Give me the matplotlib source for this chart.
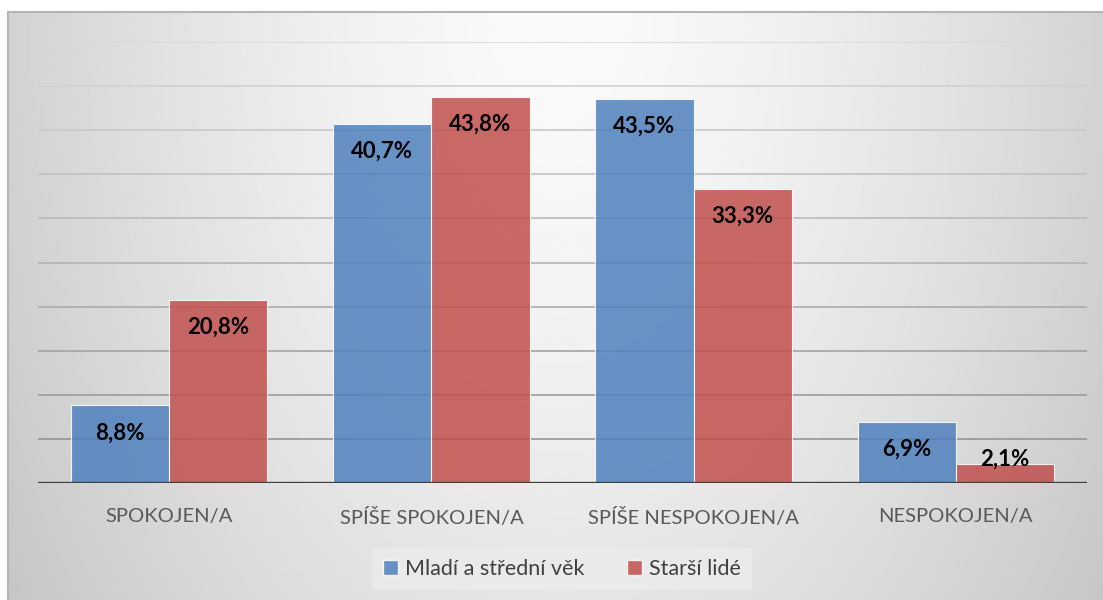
import numpy as np
import matplotlib
matplotlib.use("Agg")
import matplotlib.pyplot as plt
from matplotlib.patches import Patch, Rectangle

plt.rcParams["font.family"] = ["Lato", "DejaVu Sans"]

categories = ["SPOKOJEN/A", "SPÍŠE SPOKOJEN/A", "SPÍŠE NESPOKOJEN/A", "NESPOKOJEN/A"]
series_names = ["Mladí a střední věk", "Starší lidé"]
young = [8.8, 40.7, 43.5, 6.9]
older = [20.8, 43.8, 33.3, 2.1]

W, H = 1103, 600
fig = plt.figure(figsize=(W / 100, H / 100), dpi=100)

# gradient chart-area background (light at top centre, darker towards edges)
bg = fig.add_axes([8 / W, 0, 1 - 8 / W, 1 - 12 / H], zorder=-10)
xx, yy = np.meshgrid(np.linspace(8, W, 400), np.linspace(12, H, 300))
t = np.sqrt(((xx - 560) / 560) ** 2 + ((yy - 12) / 910) ** 2)
shade = np.clip(0.98 - 0.16 * t ** 1.5, 0.78, 0.98)
bg.imshow(shade, cmap="gray", vmin=0, vmax=1, aspect="auto",
          extent=[0, 1, 0, 1], origin="upper", interpolation="bilinear")
bg.set_xlim(0, 1)
bg.set_ylim(0, 1)
bg.axis("off")
fig.add_artist(Rectangle((8 / W, -0.1), 1.2, 1 - 12 / H + 0.1, transform=fig.transFigure,
                         fill=False, edgecolor="#b4b4b4", linewidth=1.5, zorder=-5))

ax = fig.add_axes([38 / W, 117 / H, 1049 / W, 441 / H])
ax.set_facecolor("none")
ax.set_xlim(-0.5, 3.5)
ax.set_ylim(0, 50)

for v in range(5, 51, 5):
    g = 0.55 + 0.30 * (v / 50)
    ax.axhline(v, color=(g, g, g), linewidth=1.2, zorder=1)
ax.axhline(0, color="#404040", linewidth=2.4, zorder=4)

x = np.arange(len(categories))
w = 0.375
ax.bar(x - w / 2, young, w, color="#4f81bd", alpha=0.85,
       edgecolor=(1, 1, 1, 0.5), linewidth=0.8, zorder=2)
ax.bar(x + w / 2, older, w, color="#c0504d", alpha=0.85,
       edgecolor=(1, 1, 1, 0.5), linewidth=0.8, zorder=2)

for xs, vals in ((x - w / 2, young), (x + w / 2, older)):
    for xi, v in zip(xs, vals):
        yl = max(v - 3.1, 2.7)
        ax.text(xi, yl, f"{v:.1f}%".replace(".", ","), ha="center", va="center",
                fontsize=16, fontweight="bold", color="black", zorder=5)

ax.set_yticks([])
ax.set_xticks(x)
ax.set_xticklabels(categories, fontsize=14.5, color="#595959")
ax.tick_params(axis="x", length=0, pad=18)
for s in ax.spines.values():
    s.set_visible(False)

handles = [Patch(facecolor="#4f81bd", alpha=0.85, edgecolor=(1, 1, 1, 0.5)),
           Patch(facecolor="#c0504d", alpha=0.85, edgecolor=(1, 1, 1, 0.5))]
leg = fig.legend(handles, series_names, loc="center", bbox_to_anchor=(562 / W, 1 - 569 / H),
                 ncol=2, fontsize=15.5, frameon=True, handlelength=0.7, handleheight=0.7,
                 handletextpad=0.3, columnspacing=2.0, borderpad=0.5, fancybox=False,
                 labelcolor="#404040")
leg.get_frame().set_facecolor("#ececec")
leg.get_frame().set_edgecolor("none")
leg.get_frame().set_alpha(0.8)

fig.savefig("out.png", dpi=100)
